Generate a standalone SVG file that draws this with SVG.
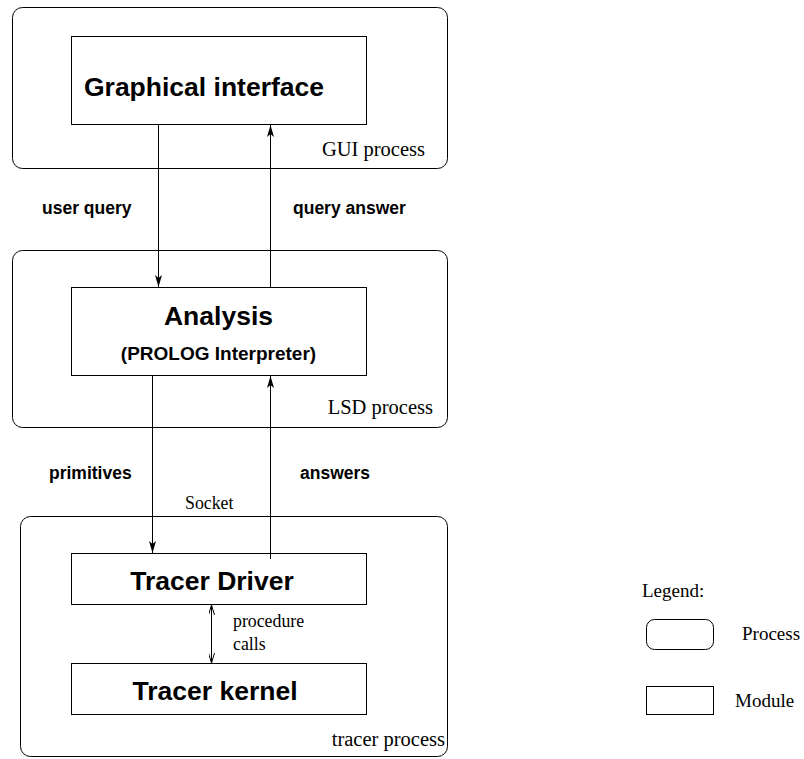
<svg xmlns="http://www.w3.org/2000/svg" width="804" height="759" viewBox="0 0 804 759">
<style>
.proc{fill:none;stroke:#000;stroke-width:1}
.mod{fill:#fff;stroke:#000;stroke-width:1}
.big{font-family:"Liberation Sans",Arial,sans-serif;font-weight:bold;font-size:26.5px;fill:#000}
.mid{font-family:"Liberation Sans",Arial,sans-serif;font-weight:bold;font-size:19px;fill:#000}
.lbl{font-family:"Liberation Sans",Arial,sans-serif;font-weight:bold;font-size:17.5px;fill:#000}
.ser{font-family:"Liberation Serif","Times New Roman",serif;font-size:20.5px;fill:#000}
.leg{font-family:"Liberation Serif","Times New Roman",serif;font-size:19px;fill:#000}
.sm{font-family:"Liberation Serif","Times New Roman",serif;font-size:17.8px;fill:#000}
.con{stroke:#000;stroke-width:1;fill:none}
</style>
<defs>
<marker id="ah" viewBox="0 0 12 7" refX="12" refY="3.5" markerWidth="12" markerHeight="7" markerUnits="userSpaceOnUse" orient="auto">
<path d="M0,0 L12,3.5 L0,7 L3,3.5 Z" fill="#000"/>
</marker>
<marker id="ahs" viewBox="0 0 10 6" refX="10" refY="3" markerWidth="10" markerHeight="6" markerUnits="userSpaceOnUse" orient="auto-start-reverse">
<path d="M0,0 L10,3 L0,6" fill="none" stroke="#000" stroke-width="1"/>
</marker>
</defs>
<rect width="804" height="759" fill="#fff"/>
<g id="gui-process">
<rect class="proc" x="12.5" y="7.5" width="435" height="161" rx="10"/>
<text class="ser" x="425" y="156" text-anchor="end">GUI process</text>
</g>
<g id="graphical-interface">
<rect class="mod" x="71.5" y="36.5" width="295" height="88"/>
<text class="big" x="204" y="96" text-anchor="middle">Graphical interface</text>
</g>
<g id="lsd-process">
<rect class="proc" x="12.5" y="250.5" width="435" height="177" rx="10"/>
<text class="ser" x="433" y="414" text-anchor="end">LSD process</text>
</g>
<g id="analysis">
<rect class="mod" x="71.5" y="287.5" width="295" height="88"/>
<text class="big" x="218.5" y="325" text-anchor="middle">Analysis</text>
<text class="mid" x="218.5" y="360" text-anchor="middle">(PROLOG Interpreter)</text>
</g>
<g id="tracer-process">
<rect class="proc" x="20.5" y="516.5" width="427" height="240" rx="10"/>
<text class="ser" x="445" y="746" text-anchor="end">tracer process</text>
</g>
<g id="tracer-driver">
<rect class="mod" x="71.5" y="553.5" width="295" height="51"/>
<text class="big" x="212" y="590" text-anchor="middle">Tracer Driver</text>
</g>
<g id="tracer-kernel">
<rect class="mod" x="71.5" y="663.5" width="295" height="51"/>
<text class="big" x="215" y="700" text-anchor="middle">Tracer kernel</text>
</g>
<g id="connectors">
<line class="con" x1="158.5" y1="124.5" x2="158.5" y2="287" marker-end="url(#ah)"/>
<line class="con" x1="270.5" y1="287.5" x2="270.5" y2="125" marker-end="url(#ah)"/>
<line class="con" x1="152.5" y1="375.5" x2="152.5" y2="553" marker-end="url(#ah)"/>
<line class="con" x1="270.5" y1="559" x2="270.5" y2="376" marker-end="url(#ah)"/>
<line class="con" x1="211.5" y1="605" x2="211.5" y2="663" marker-start="url(#ahs)" marker-end="url(#ahs)"/>
<text class="lbl" x="42" y="214">user query</text>
<text class="lbl" x="293" y="214">query answer</text>
<text class="lbl" x="49" y="479">primitives</text>
<text class="lbl" x="300" y="479">answers</text>
<text class="sm" x="185" y="509">Socket</text>
<text class="sm" x="233" y="627">procedure</text>
<text class="sm" x="233" y="650">calls</text>
</g>
<g id="legend">
<text class="leg" x="642" y="597">Legend:</text>
<rect class="proc" x="646.5" y="619.5" width="67" height="30" rx="8"/>
<text class="leg" x="742" y="640">Process</text>
<rect class="mod" x="646.5" y="686.5" width="67" height="28"/>
<text class="leg" x="735" y="707">Module</text>
</g>
</svg>
